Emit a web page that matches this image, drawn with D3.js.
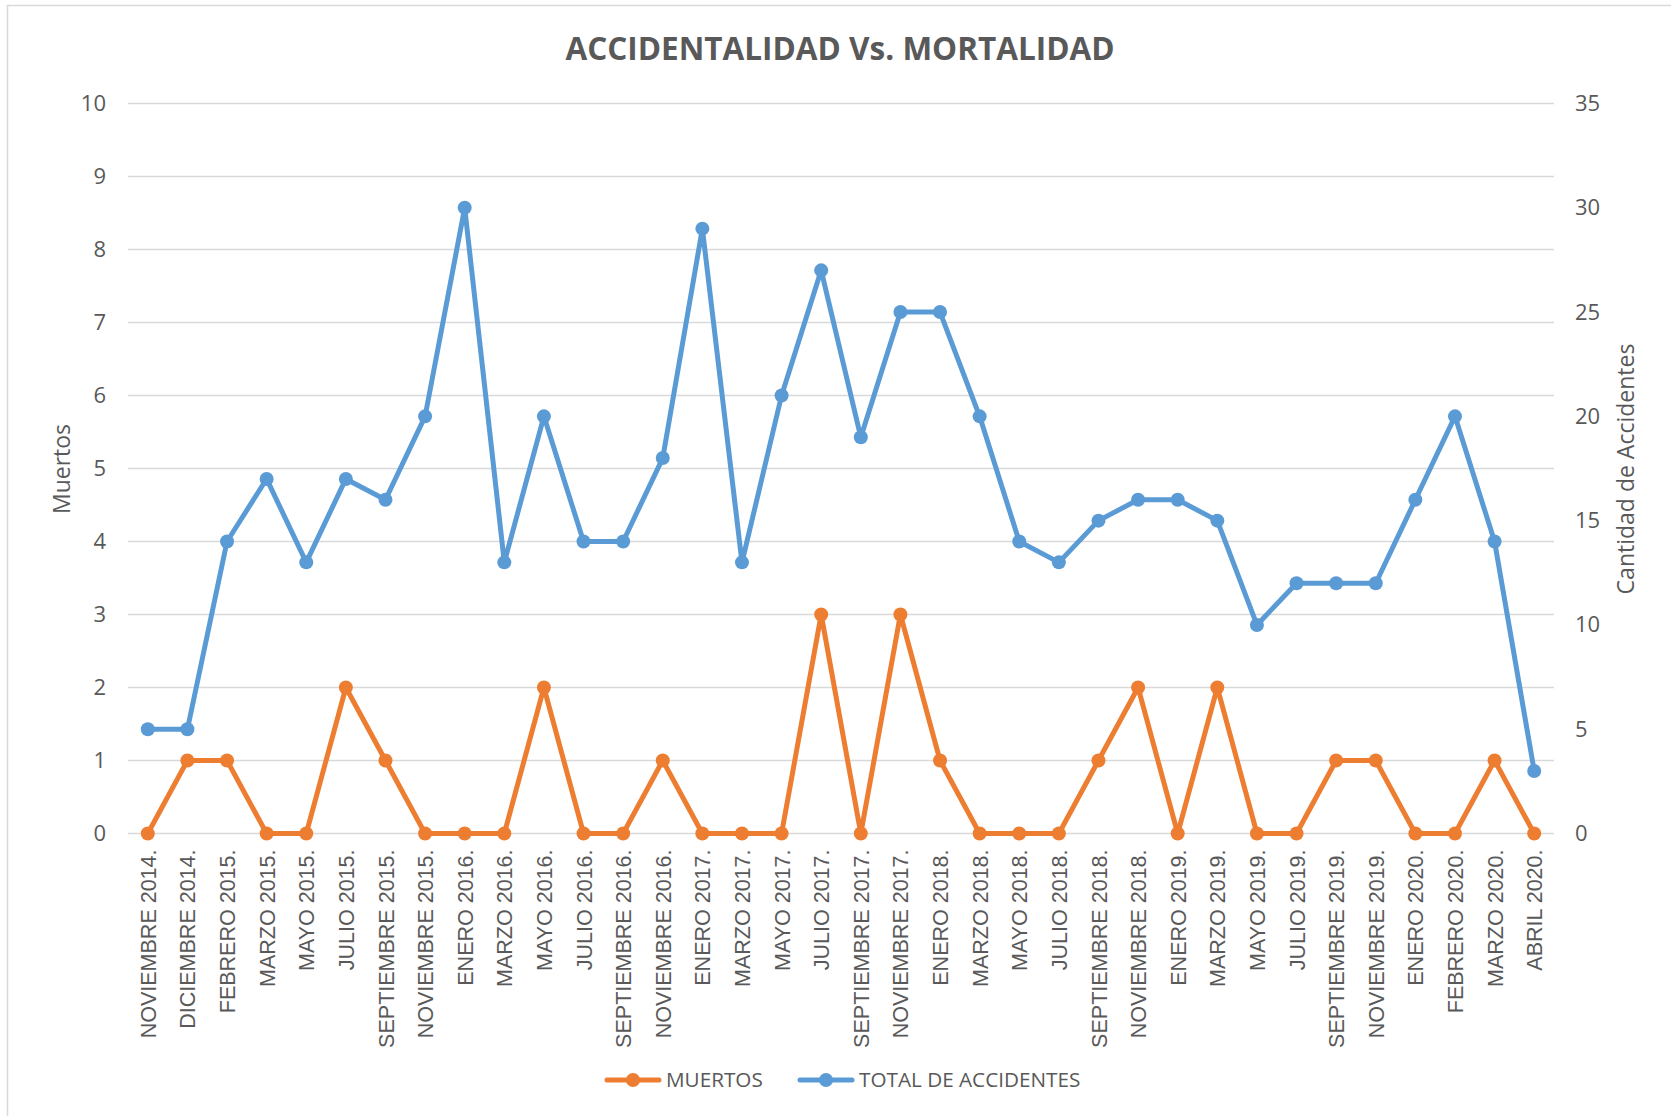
<!DOCTYPE html>
<html>
<head>
<meta charset="utf-8">
<script src="https://cdn.jsdelivr.net/npm/d3@7"></script>
<style>
  html, body { margin: 0; padding: 0; background: #fff; }
  svg { display: block; }
</style>
</head>
<body>
<script>
// Periods (x categories)
const periods = [
  "NOVIEMBRE 2014.", "DICIEMBRE 2014.", "FEBRERO 2015.", "MARZO 2015.", "MAYO 2015.",
  "JULIO 2015.", "SEPTIEMBRE 2015.", "NOVIEMBRE 2015.", "ENERO 2016.", "MARZO 2016.",
  "MAYO 2016.", "JULIO 2016.", "SEPTIEMBRE 2016.", "NOVIEMBRE 2016.", "ENERO 2017.",
  "MARZO 2017.", "MAYO 2017.", "JULIO 2017.", "SEPTIEMBRE 2017.", "NOVIEMBRE 2017.",
  "ENERO 2018.", "MARZO 2018.", "MAYO 2018.", "JULIO 2018.", "SEPTIEMBRE 2018.",
  "NOVIEMBRE 2018.", "ENERO 2019.", "MARZO 2019.", "MAYO 2019.", "JULIO 2019.",
  "SEPTIEMBRE 2019.", "NOVIEMBRE 2019.", "ENERO 2020.", "FEBRERO 2020.", "MARZO 2020.",
  "ABRIL 2020."
];

// Deaths per period (left axis)
const muertos = [
  0, 1, 1, 0, 0, 2, 1, 0, 0, 0,
  2, 0, 0, 1, 0, 0, 0, 3, 0, 3,
  1, 0, 0, 0, 1, 2, 0, 2, 0, 0,
  1, 1, 0, 0, 1, 0
];

// Total accidents per period (right axis)
const totalAccidentes = [
  5, 5, 14, 17, 13, 17, 16, 20, 30, 13,
  20, 14, 14, 18, 29, 13, 21, 27, 19, 25,
  25, 20, 14, 13, 15, 16, 16, 15, 10, 12,
  12, 12, 16, 20, 14, 3
];

const leftTicks = [0, 1, 2, 3, 4, 5, 6, 7, 8, 9, 10];
const rightTicks = [0, 5, 10, 15, 20, 25, 30, 35];

const W = 1671, H = 1116;
const plot = { left: 128, right: 1554, top: 103.5, bottom: 833.5 };
const textColor = "#595959";
const orange = "#ED7D31", blue = "#5B9BD5";
const font = "'Open Sans', 'Noto Sans', sans-serif";

const svg = d3.select("body").append("svg")
  .attr("width", W).attr("height", H);

// chart area border
svg.append("rect")
  .attr("x", 7.5).attr("y", 5.5)
  .attr("width", W + 50).attr("height", H + 50)
  .attr("fill", "#fff").attr("stroke", "#D9D9D9").attr("stroke-width", 1.5);

const x = d3.scalePoint().domain(periods).range([plot.left, plot.right]).padding(0.5);
const yL = d3.scaleLinear().domain([0, 10]).range([plot.bottom, plot.top]);
const yR = d3.scaleLinear().domain([0, 35]).range([plot.bottom, plot.top]);

// horizontal gridlines (left axis)
svg.append("g")
  .selectAll("line").data(leftTicks).join("line")
  .attr("x1", plot.left).attr("x2", plot.right)
  .attr("y1", d => yL(d)).attr("y2", d => yL(d))
  .attr("stroke", "#D9D9D9").attr("stroke-width", 1.5);

// left axis
const gL = svg.append("g")
  .attr("transform", `translate(${plot.left},0)`)
  .call(d3.axisLeft(yL).tickValues(leftTicks).tickSize(0).tickPadding(22));
gL.select(".domain").remove();
gL.selectAll("text")
  .attr("fill", textColor).style("font-family", font).style("font-size", "22px");

// right axis
const gR = svg.append("g")
  .attr("transform", `translate(${plot.right},0)`)
  .call(d3.axisRight(yR).tickValues(rightTicks).tickSize(0).tickPadding(21));
gR.select(".domain").remove();
gR.selectAll("text")
  .attr("fill", textColor).style("font-family", font).style("font-size", "22px");

// bottom axis with vertical labels
const gB = svg.append("g")
  .attr("transform", `translate(0,${plot.bottom})`)
  .call(d3.axisBottom(x).tickSize(0));
gB.select(".domain").remove();
gB.selectAll("text")
  .attr("fill", textColor)
  .style("font-family", "'Liberation Sans', Arial, sans-serif")
  .style("font-size", "21.5px")
  .attr("text-anchor", "end")
  .attr("transform", "rotate(-90)")
  .attr("x", -16).attr("y", 0).attr("dy", "0.35em");

// axis titles
svg.append("text")
  .attr("transform", `translate(62,${(423 + 515) / 2}) rotate(-90)`)
  .attr("text-anchor", "middle").attr("dy", "0.35em")
  .attr("fill", textColor).style("font-family", font).style("font-size", "23px")
  .text("Muertos");

svg.append("text")
  .attr("transform", `translate(1626,${(343 + 595) / 2}) rotate(-90)`)
  .attr("text-anchor", "middle").attr("dy", "0.35em")
  .attr("fill", textColor).style("font-family", font).style("font-size", "23px")
  .text("Cantidad de Accidentes");

// title
svg.append("text")
  .attr("x", 840).attr("y", 60)
  .attr("text-anchor", "middle")
  .attr("fill", textColor).style("font-family", font)
  .style("font-size", "31.5px").style("font-weight", "bold")
  .text("ACCIDENTALIDAD Vs. MORTALIDAD");

// series
function drawSeries(values, yScale, color) {
  const g = svg.append("g");
  const line = d3.line().x((d, i) => x(periods[i])).y(d => yScale(d));
  g.append("path").datum(values)
    .attr("d", line).attr("fill", "none")
    .attr("stroke", color).attr("stroke-width", 5)
    .attr("stroke-linejoin", "round").attr("stroke-linecap", "round");
  g.selectAll("circle").data(values).join("circle")
    .attr("cx", (d, i) => x(periods[i])).attr("cy", d => yScale(d))
    .attr("r", 7).attr("fill", color);
}
drawSeries(totalAccidentes, yR, blue);
drawSeries(muertos, yL, orange);

// legend
const legendItems = [
  { name: "MUERTOS", color: orange, x: 607 },
  { name: "TOTAL DE ACCIDENTES", color: blue, x: 800 }
];
const lg = svg.append("g").attr("transform", "translate(0,1080)");
legendItems.forEach(it => {
  lg.append("line")
    .attr("x1", it.x).attr("x2", it.x + 52).attr("y1", 0).attr("y2", 0)
    .attr("stroke", it.color).attr("stroke-width", 5).attr("stroke-linecap", "round");
  lg.append("circle").attr("cx", it.x + 26).attr("cy", 0).attr("r", 7).attr("fill", it.color);
  lg.append("text")
    .attr("x", it.x + 59).attr("y", 0).attr("dy", "0.35em")
    .attr("fill", textColor).style("font-family", font).style("font-size", "20.7px")
    .text(it.name);
});
</script>
</body>
</html>
